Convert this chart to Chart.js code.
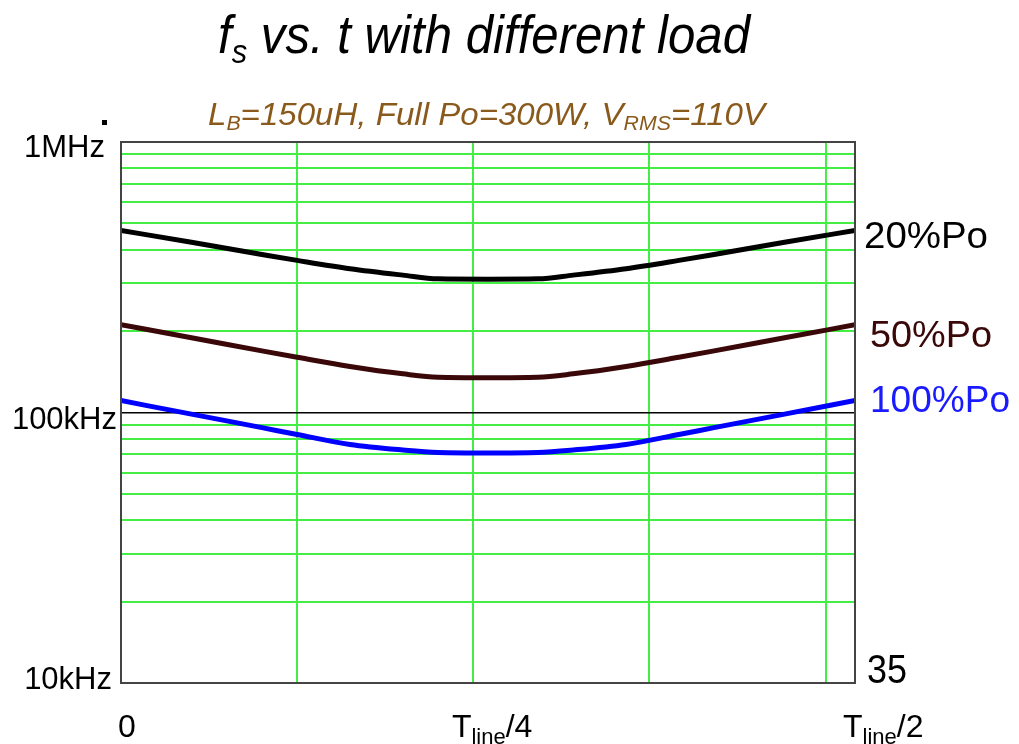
<!DOCTYPE html>
<html>
<head>
<meta charset="utf-8">
<script src="https://cdn.jsdelivr.net/npm/chart.js@4"></script>
<style>
  body { margin: 0; background: #fff; }
  #wrap { width: 1019px; height: 744px; }
</style>
</head>
<body>
<div id="wrap"><canvas id="fs-chart"></canvas></div>
<script>
// time axis, ms (0 .. T_line/2)
const times = [0, 0.4, 0.8, 1.0, 1.3, 1.6, 1.8, 2.083, 2.367, 2.567, 2.867, 3.167, 3.367, 3.767, 4.167];

// switching frequency, kHz
const fs20 = [471, 426, 384, 365, 340, 322, 312, 311, 312, 322, 340, 365, 384, 426, 471];
const fs50 = [211, 189, 169, 160, 148, 139, 135, 134.5, 135, 139, 148, 160, 169, 189, 211];
const fs100 = [110.7, 98.6, 87.9, 82.9, 76.2, 72.7, 71.2, 70.9, 71.2, 72.7, 76.2, 82.9, 87.9, 98.6, 110.7];

const seriesNames = ['20%Po', '50%Po', '100%Po'];

// grid + tick labels
const xGrid = [1, 2, 3, 4];
const xTickValues = [0, 2.083, 4.167];
const xTickLabels = [['0', '', ''], ['T', 'line', '/4'], ['T', 'line', '/2']];
const yGrid = [10, 20, 30, 40, 50, 60, 70, 80, 90, 100, 200, 300, 400, 500, 600, 700, 800, 900, 1000];
const yTickValues = [1000, 100, 10];
const yTickLabels = ['1MHz', '100kHz', '10kHz'];

const FONT = '"Liberation Sans", Arial, sans-serif';

function pts(vals) {
  return vals.map((v, i) => ({ x: times[i], y: v }));
}

// draw text made of pieces (for subscripts), optionally squeezed to a width
function drawRich(ctx, parts, x, baseline, width, color) {
  let total = 0;
  parts.forEach(p => { ctx.font = p.f; p.w = ctx.measureText(p.t).width; total += p.w; });
  const sx = width ? width / total : 1;
  ctx.save();
  ctx.translate(x, baseline);
  ctx.scale(sx, 1);
  ctx.fillStyle = color;
  ctx.textAlign = 'left';
  ctx.textBaseline = 'alphabetic';
  let cx = 0;
  parts.forEach(p => {
    ctx.font = p.f;
    ctx.fillText(p.t, cx, p.dy || 0);
    cx += p.w;
  });
  ctx.restore();
}

const textPlugin = {
  id: 'texts',
  afterDraw(chart) {
    const { ctx, chartArea: a, scales: { x, y } } = chart;
    ctx.save();

    // frame
    ctx.strokeStyle = '#444';
    ctx.lineWidth = 2;
    ctx.strokeRect(a.left, a.top, a.right - a.left, a.bottom - a.top);

    // title
    const big = 'italic 54px ' + FONT;
    drawRich(ctx, [
      { t: 'f', f: big },
      { t: 's', f: 'italic 34px ' + FONT, dy: 10 },
      { t: ' vs. t with different load', f: big }
    ], 218, 53, 532, '#000');

    // subtitle
    const sub = 'italic 31px ' + FONT;
    const subS = 'italic 20px ' + FONT;
    drawRich(ctx, [
      { t: 'L', f: sub },
      { t: 'B', f: subS, dy: 5 },
      { t: '=150uH, Full Po=300W, V', f: sub },
      { t: 'RMS', f: subS, dy: 5 },
      { t: '=110V', f: sub }
    ], 208, 125, 557, '#8a5a1c');

    // y tick labels
    const yDy = [15, 16, 6];
    const yGap = [16, 4, 9];
    ctx.font = '31px ' + FONT;
    ctx.fillStyle = '#000';
    ctx.textAlign = 'right';
    ctx.textBaseline = 'alphabetic';
    yTickValues.forEach((v, i) => {
      ctx.fillText(yTickLabels[i], a.left - yGap[i], y.getPixelForValue(v) + yDy[i]);
    });
    ctx.fillRect(102, 120, 5, 5);

    // x tick labels
    const xDx = [-3, -36, -12];
    xTickValues.forEach((v, i) => {
      const [m, s, e] = xTickLabels[i];
      drawRich(ctx, [
        { t: m, f: '32px ' + FONT },
        { t: s, f: '22px ' + FONT, dy: 7 },
        { t: e, f: '32px ' + FONT }
      ], x.getPixelForValue(v) + xDx[i], 737, null, '#000');
    });

    // series labels at the right end
    const lblDx = [9, 15, 15];
    const lblDy = [18, 22, 11];
    const lblW = [124, 122, 140];
    chart.data.datasets.forEach((ds, i) => {
      const last = ds.data[ds.data.length - 1];
      drawRich(ctx, [{ t: seriesNames[i], f: '37px ' + FONT }],
        a.right + lblDx[i], y.getPixelForValue(last.y) + lblDy[i], lblW[i],
        i === 2 ? '#1a1aff' : ds.borderColor);
    });

    drawRich(ctx, [{ t: '35', f: '40px ' + FONT }], a.right + 12, a.bottom, 40, '#000');

    ctx.restore();
  }
};

const ctx = document.getElementById('fs-chart').getContext('2d');
new Chart(ctx, {
  type: 'line',
  data: {
    datasets: [
      { label: seriesNames[0], data: pts(fs20), borderColor: '#000000' },
      { label: seriesNames[1], data: pts(fs50), borderColor: '#3a0808' },
      { label: seriesNames[2], data: pts(fs100), borderColor: '#0000ff' }
    ]
  },
  options: {
    responsive: true,
    maintainAspectRatio: false,
    animation: false,
    layout: { padding: { left: 121, right: 164, top: 142, bottom: 61 } },
    elements: {
      point: { radius: 0 },
      line: { borderWidth: 5, cubicInterpolationMode: 'monotone', fill: false }
    },
    plugins: {
      legend: { display: false },
      tooltip: { enabled: false }
    },
    scales: {
      x: {
        type: 'linear',
        min: 0,
        max: 4.167,
        afterBuildTicks: s => { s.ticks = xGrid.map(v => ({ value: v })); },
        ticks: { display: false },
        grid: { color: '#44ee44', lineWidth: 2, drawTicks: false },
        border: { display: false }
      },
      y: {
        type: 'logarithmic',
        min: 10,
        max: 1000,
        afterBuildTicks: s => { s.ticks = yGrid.map(v => ({ value: v })); },
        ticks: { display: false },
        grid: {
          drawTicks: false,
          color: c => c.tick && c.tick.value === 100 ? '#000' : '#44ee44',
          lineWidth: c => c.tick && c.tick.value === 100 ? 1.5 : 2
        },
        border: { display: false }
      }
    }
  },
  plugins: [textPlugin]
});
</script>
</body>
</html>
